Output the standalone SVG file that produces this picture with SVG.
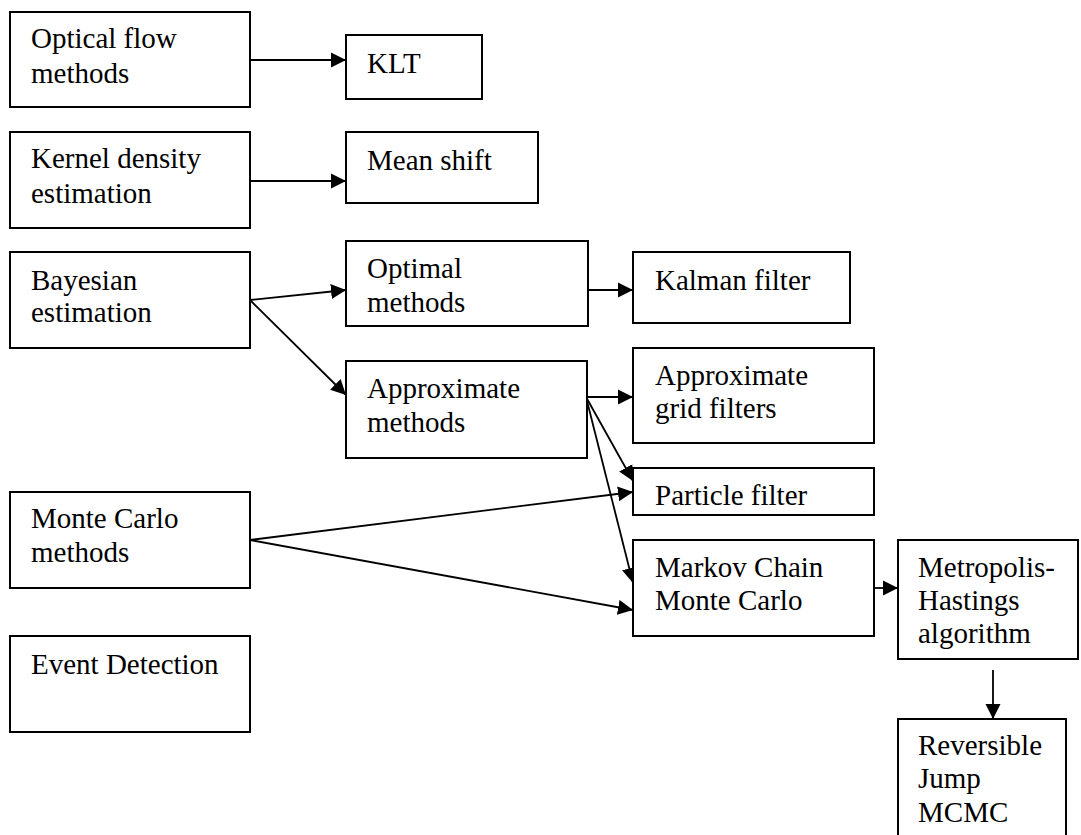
<svg xmlns="http://www.w3.org/2000/svg" width="1081" height="835" viewBox="0 0 1081 835">
<style>
.box{fill:#fff;stroke:#000;stroke-width:2}
.t{font-family:"Liberation Serif","Times New Roman",serif;font-size:29px;fill:#000}
.c{stroke:#000;stroke-width:1.8;fill:none}
</style>
<defs>
<marker id="ah" markerUnits="userSpaceOnUse" markerWidth="16" markerHeight="16" refX="15" refY="8" orient="auto">
<path d="M0,0.5 L15,8 L0,15.5 z" fill="#000"/>
</marker>
</defs>
<rect width="1081" height="835" fill="#fff"/>
<g id="connectors">
<line class="c" x1="250" y1="60" x2="346" y2="60" marker-end="url(#ah)"/>
<line class="c" x1="250" y1="181" x2="346" y2="181" marker-end="url(#ah)"/>
<line class="c" x1="250" y1="300" x2="346" y2="290" marker-end="url(#ah)"/>
<line class="c" x1="250" y1="300" x2="346" y2="395" marker-end="url(#ah)"/>
<line class="c" x1="585" y1="290" x2="633" y2="290" marker-end="url(#ah)"/>
<line class="c" x1="586" y1="397" x2="633" y2="397" marker-end="url(#ah)"/>
<line class="c" x1="586" y1="397" x2="633" y2="481" marker-end="url(#ah)"/>
<line class="c" x1="586" y1="397" x2="633" y2="583" marker-end="url(#ah)"/>
<line class="c" x1="250" y1="540" x2="633" y2="492" marker-end="url(#ah)"/>
<line class="c" x1="250" y1="540" x2="633" y2="610" marker-end="url(#ah)"/>
<line class="c" x1="874" y1="588" x2="898" y2="588" marker-end="url(#ah)"/>
<line class="c" x1="993" y1="670" x2="993" y2="719" marker-end="url(#ah)"/>
</g>
<g id="optical"><rect class="box" x="10" y="12" width="240" height="95"/><text class="t" x="31" y="48">Optical flow</text><text class="t" x="31" y="83">methods</text></g>
<g id="klt"><rect class="box" x="346" y="35" width="136" height="64"/><text class="t" x="367" y="73">KLT</text></g>
<g id="kernel"><rect class="box" x="10" y="132" width="240" height="96"/><text class="t" x="31" y="168">Kernel density</text><text class="t" x="31" y="203">estimation</text></g>
<g id="meanshift"><rect class="box" x="346" y="132" width="192" height="71"/><text class="t" x="367" y="170">Mean shift</text></g>
<g id="bayesian"><rect class="box" x="10" y="252" width="240" height="96"/><text class="t" x="31" y="290">Bayesian</text><text class="t" x="31" y="322">estimation</text></g>
<g id="optimal"><rect class="box" x="346" y="241" width="242" height="85"/><text class="t" x="367" y="278">Optimal</text><text class="t" x="367" y="312">methods</text></g>
<g id="kalman"><rect class="box" x="633" y="252" width="217" height="71"/><text class="t" x="655" y="290">Kalman filter</text></g>
<g id="approx"><rect class="box" x="346" y="361" width="241" height="97"/><text class="t" x="367" y="398">Approximate</text><text class="t" x="367" y="432">methods</text></g>
<g id="grid"><rect class="box" x="633" y="348" width="241" height="95"/><text class="t" x="655" y="385">Approximate</text><text class="t" x="655" y="418">grid filters</text></g>
<g id="particle"><rect class="box" x="633" y="468" width="241" height="47"/><text class="t" x="655" y="505">Particle filter</text></g>
<g id="montecarlo"><rect class="box" x="10" y="492" width="240" height="96"/><text class="t" x="31" y="528">Monte Carlo</text><text class="t" x="31" y="562">methods</text></g>
<g id="mcmc"><rect class="box" x="633" y="540" width="241" height="96"/><text class="t" x="655" y="577">Markov Chain</text><text class="t" x="655" y="610">Monte Carlo</text></g>
<g id="metropolis"><rect class="box" x="898" y="540" width="180" height="119"/><text class="t" x="918" y="577">Metropolis-</text><text class="t" x="918" y="610">Hastings</text><text class="t" x="918" y="643">algorithm</text></g>
<g id="event"><rect class="box" x="10" y="636" width="240" height="96"/><text class="t" x="31" y="674">Event Detection</text></g>
<g id="rjmcmc"><rect class="box" x="898" y="719" width="168" height="130"/><text class="t" x="918" y="755">Reversible</text><text class="t" x="918" y="788">Jump</text><text class="t" x="918" y="822">MCMC</text></g>
</svg>
